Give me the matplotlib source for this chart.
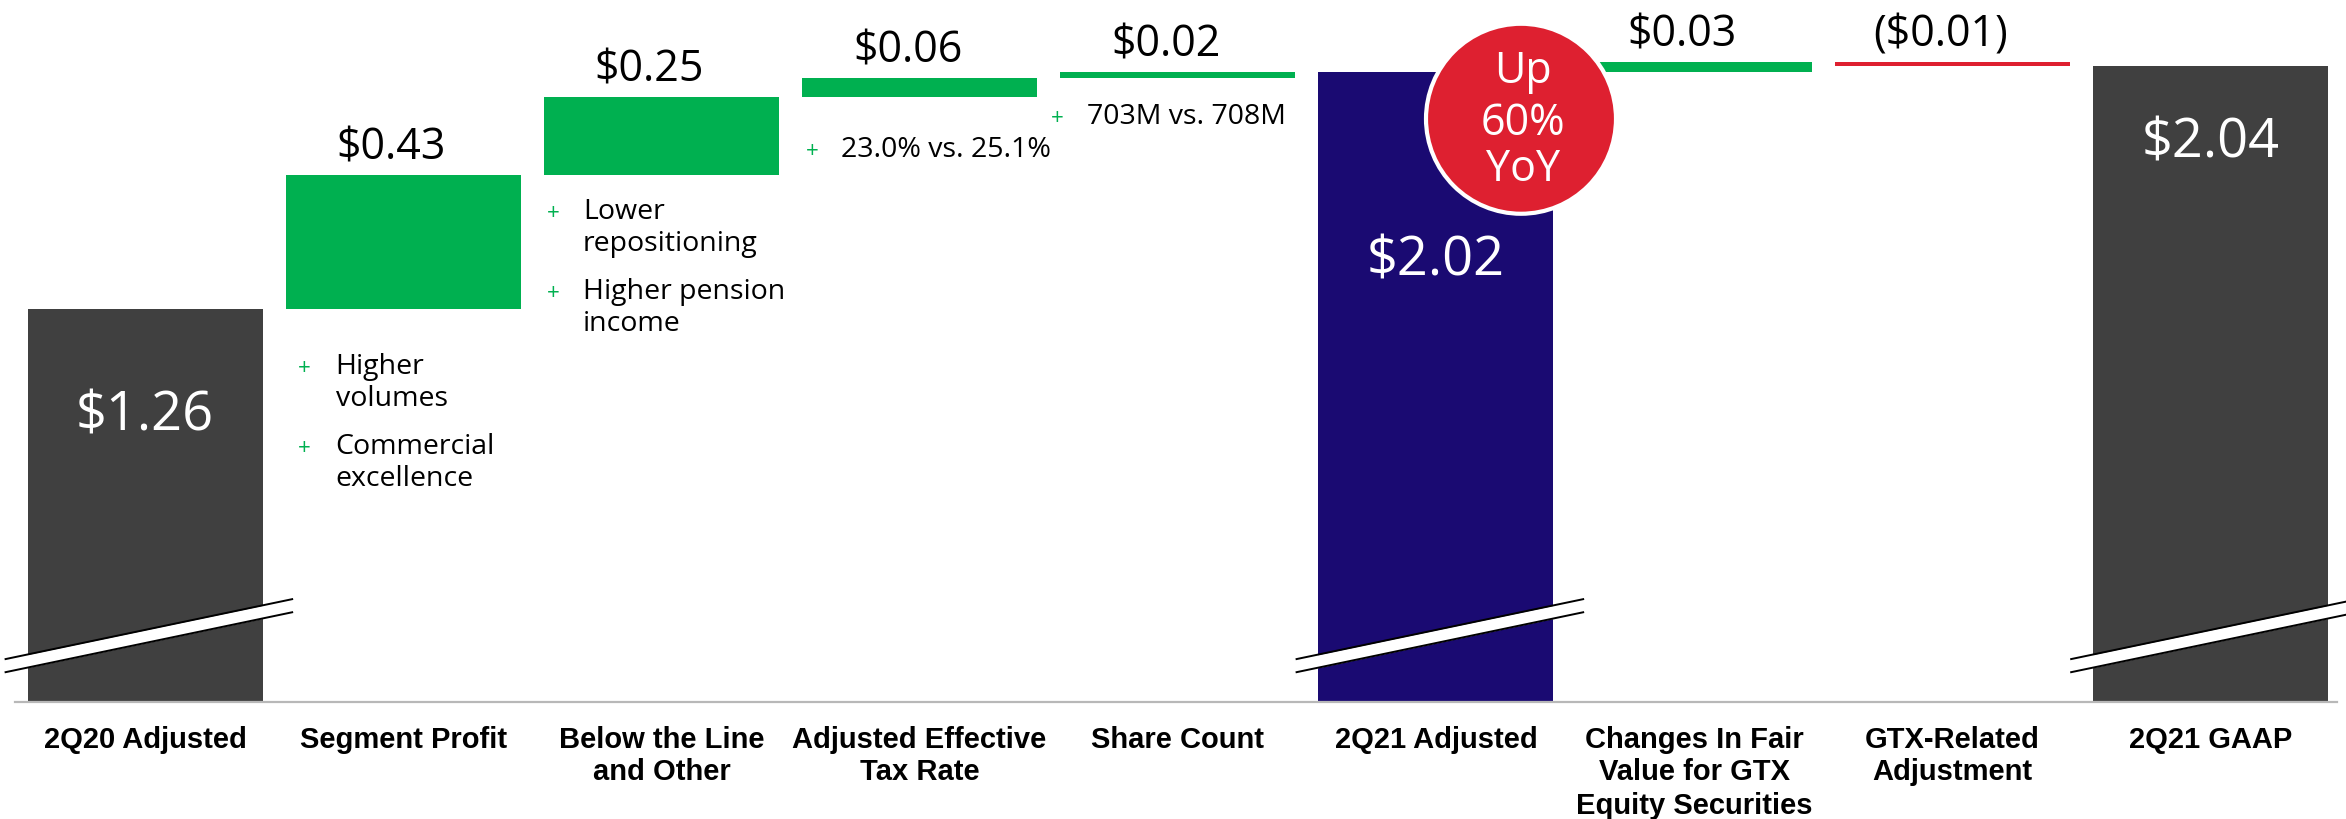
"""
EPS bridge 2Q20 -> 2Q21 (waterfall with notes)
"""

import numpy as np
import matplotlib
matplotlib.use('Agg')
import matplotlib.pyplot as plt
from matplotlib.patches import Ellipse

# ---- data ----
categories = ['2Q20 Adjusted', 'Segment Profit', 'Below the Line\nand Other',
              'Adjusted Effective\nTax Rate', 'Share Count', '2Q21 Adjusted',
              'Changes In Fair\nValue for GTX\nEquity Securities',
              'GTX-Related\nAdjustment', '2Q21 GAAP']
values = [1.26, 0.43, 0.25, 0.06, 0.02, 2.02, 0.03, -0.01, 2.04]
is_total = [True, False, False, False, False, True, False, False, True]
value_labels = ['$1.26', '$0.43', '$0.25', '$0.06', '$0.02', '$2.02',
                '$0.03', '($0.01)', '$2.04']
notes = {1: ['Higher\nvolumes', 'Commercial\nexcellence'],
         2: ['Lower\nrepositioning', 'Higher pension\nincome'],
         3: ['23.0% vs. 25.1%'],
         4: ['703M vs. 708M']}
badge_lines = ['Up', '60%', 'YoY']

DARK = '#404040'
NAVY = '#1a0a72'
GREEN = '#00b050'
RED = '#de2030'
total_colors = {0: DARK, 5: NAVY, 8: DARK}

# ---- layout (pixels, dpi 100) ----
W, H = 2346, 819
PX_X = 258.2      # pixels per category
PX_Y = 312.0      # pixels per dollar
X0_PX, Y0_PX = 145, 702
BAR_W = 235 / PX_X
total_label_drop = {0: 103, 5: 185, 8: 73}   # label centre below bar top
# note placement: (plus dx, text dx, first line drop below bar bottom)
note_layout = {1: (19, 50, 56), 2: (9, 39, 35), 3: (10, 39, 51), 4: (-3, 27, 37)}

VAL_FONT = 'Open Sans'
CAT_FONT = 'Liberation Sans'

fig = plt.figure(figsize=(W / 100, H / 100), dpi=100)
ax = fig.add_axes([0, 0, 1, 1])
ax.set_xlim(-X0_PX / PX_X, (W - X0_PX) / PX_X)
ax.set_ylim(-(H - Y0_PX) / PX_Y, Y0_PX / PX_Y)
ax.axis('off')

x = np.arange(len(values))
bottoms, colors = [], []
running = 0.0
for i, v in enumerate(values):
    if is_total[i]:
        bottoms.append(0.0)
        colors.append(total_colors[i])
        running = v
    else:
        bottoms.append(running)
        colors.append(GREEN if v > 0 else RED)
        running += v

ax.bar(x, values, bottom=bottoms, width=BAR_W, color=colors, zorder=2)

# zero line
ax.plot([-0.504, 8.49], [0, 0], color='#b8b8b8', lw=1.6, zorder=3)

# break marks on the total bars
slope, gap, ymid = 0.173, 0.042, 0.21
for i in x[np.array(is_total)]:
    xs = np.array([i - 0.54, i + 0.57])
    yl = ymid + slope * (xs - i)
    ax.fill_between(xs, yl - gap / 2, yl + gap / 2, color='white', lw=0, zorder=4)
    ax.plot(xs, yl + gap / 2, color='black', lw=1.4, zorder=5)
    ax.plot(xs, yl - gap / 2, color='black', lw=1.4, zorder=5)


def px_text(xd, yd, dx, dy, s, **kw):
    # dx right, dy down, in output pixels
    ax.annotate(s, xy=(xd, yd), xytext=(dx, -dy), textcoords='offset pixels', **kw)


# value labels
for i, v in enumerate(values):
    if is_total[i]:
        px_text(i, v, 0, total_label_drop[i] + 19, value_labels[i],
                ha='center', va='baseline', color='white', fontsize=39,
                family=VAL_FONT, zorder=6)
    else:
        top = max(bottoms[i], bottoms[i] + v)
        px_text(i, top, -12, -15.5, value_labels[i], ha='center', va='baseline',
                color='black', fontsize=31, family=VAL_FONT, zorder=6)

# bullet notes
for i, items in notes.items():
    left = i - BAR_W / 2
    bottom = min(bottoms[i], bottoms[i] + values[i])
    pdx, tdx, drop = note_layout[i]
    for k, item in enumerate(items):
        yc = drop + k * 80
        px_text(left, bottom, pdx, yc + 9.5, '+', ha='center', va='baseline',
                color=GREEN, fontsize=16, family=VAL_FONT)
        for j, line in enumerate(item.split('\n')):
            px_text(left, bottom, tdx, yc + 9.5 + j * 32, line, ha='left',
                    va='baseline', color='black', fontsize=20.5, family=VAL_FONT)

# category labels
for i, cat in enumerate(categories):
    for j, line in enumerate(cat.split('\n')):
        px_text(i, 0, 0, 45.5 + j * 33, line, ha='center', va='baseline',
                fontsize=21, fontweight='bold', family=CAT_FONT)

# "Up 60% YoY" badge
bx, by = 5 + 85 / PX_X, values[5] - 47 / PX_Y
r = 95
ax.add_patch(Ellipse((bx, by), 2 * r / PX_X, 2 * r / PX_Y, facecolor=RED,
                     edgecolor='white', lw=3, zorder=7))
for line, dy in zip(badge_lines, [-51, 1, 47]):
    px_text(bx, by, 2, dy + 15, line, ha='center', va='baseline', color='white',
            fontsize=31, family=VAL_FONT, zorder=8)

fig.savefig('out.png', dpi=100)
